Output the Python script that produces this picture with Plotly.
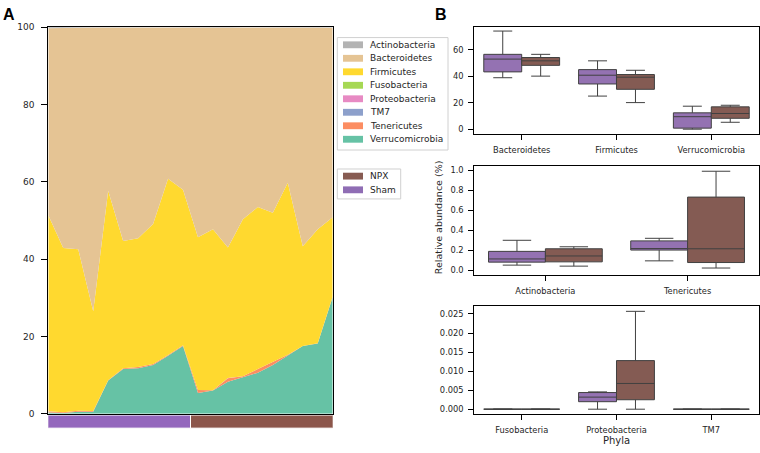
import plotly.graph_objects as go

W, H = 760, 453

# ---------------- Panel A data (relative abundance, % per sample) ----------------
samples = list(range(20))
groups = ["Sham"] * 10 + ["NPX"] * 10

verrucomicrobia = [0.3, 0.2, 0.5, 0.5, 8.6, 11.6, 11.8, 12.6, 15.0, 17.5,
                   5.4, 6.0, 8.3, 9.4, 10.6, 12.6, 15.1, 17.5, 18.2, 30.2]
tenericutes = [0.32, 0.20, 0.25, 0.22, 0.09, 0.20, 0.29, 0.30, 0.21, 0.22,
               0.75, 0.10, 0.90, 0.30, 0.98, 0.72, 0.15, 0.05, 0.02, 0.12]
tm7 = [0.0] * 20
proteobacteria = [0.004, 0.003, 0.002, 0.0, 0.0045, 0.003, 0.002, 0.004, 0.003, 0.0035,
                  0.013, 0.007, 0.026, 0.002, 0.0, 0.005, 0.008, 0.003, 0.012, 0.006]
fusobacteria = [0.0] * 20
firmicutes = [50.7, 42.5, 41.8, 25.8, 49.0, 32.9, 33.3, 36.2, 45.6, 40.2,
              39.5, 41.6, 33.8, 40.6, 41.9, 38.7, 44.5, 25.8, 29.5, 20.5]
bacteroidetes = [48.4, 56.9, 57.4, 73.4, 42.2, 55.2, 54.5, 50.7, 39.1, 42.0,
                 54.2, 52.1, 56.9, 49.6, 46.5, 47.8, 40.1, 56.6, 52.2, 49.0]
actinobacteria = [0.30, 0.19, 0.10, 0.08, 0.05, 0.12, 0.11, 0.19, 0.07, 0.10,
                  0.23, 0.21, 0.14, 0.08, 0.04, 0.22, 0.10, 0.15, 0.09, 0.18]

stack_order = ["Verrucomicrobia", "Tenericutes", "TM7", "Proteobacteria",
               "Fusobacteria", "Firmicutes", "Bacteroidetes", "Actinobacteria"]
series = {
    "Verrucomicrobia": verrucomicrobia, "Tenericutes": tenericutes, "TM7": tm7,
    "Proteobacteria": proteobacteria, "Fusobacteria": fusobacteria,
    "Firmicutes": firmicutes, "Bacteroidetes": bacteroidetes,
    "Actinobacteria": actinobacteria,
}
phylum_colors = {
    "Actinobacteria": "#b3b3b3", "Bacteroidetes": "#e5c494", "Firmicutes": "#ffd92f",
    "Fusobacteria": "#a6d854", "Proteobacteria": "#e78ac3", "TM7": "#8da0cb",
    "Tenericutes": "#fc8d62", "Verrucomicrobia": "#66c2a5",
}
group_colors = {"Sham": "#9467bd", "NPX": "#8c564b"}
box_fill = {"Sham": "#9472b2", "NPX": "#845b53"}
legend_patch = {"NPX": "#875b52", "Sham": "#8f6db4"}

# ---------------- Panel B data (box statistics) ----------------
cats_top = ["Bacteroidetes", "Firmicutes", "Verrucomicrobia"]
top_stats = {
    "Sham": dict(q1=[43.3, 34.2, 1.0], median=[52.9, 40.8, 9.6], q3=[56.5, 45.0, 12.5],
                 lowerfence=[38.9, 25.1, 0.2], upperfence=[74.0, 51.6, 17.5]),
    "NPX": dict(q1=[48.2, 30.2, 8.4], median=[51.6, 39.3, 12.0], q3=[54.1, 41.3, 17.0],
                lowerfence=[40.1, 20.2, 5.4], upperfence=[56.5, 44.5, 18.2]),
}
cats_mid = ["Actinobacteria", "Tenericutes"]
mid_stats = {
    "Sham": dict(q1=[0.079, 0.200], median=[0.111, 0.215], q3=[0.187, 0.292],
                 lowerfence=[0.049, 0.092], upperfence=[0.298, 0.318]),
    "NPX": dict(q1=[0.082, 0.075], median=[0.141, 0.213], q3=[0.213, 0.731],
                lowerfence=[0.039, 0.020], upperfence=[0.233, 0.990]),
}
cats_bot = ["Fusobacteria", "Proteobacteria", "TM7"]
bot_stats = {
    "Sham": dict(q1=[0, 0.00197, 0], median=[0, 0.00317, 0], q3=[0, 0.00437, 0],
                 lowerfence=[0, 0, 0], upperfence=[0, 0.00454, 0]),
    "NPX": dict(q1=[0, 0.00248, 0], median=[0, 0.00676, 0], q3=[0, 0.01276, 0],
                lowerfence=[0, 0, 0], upperfence=[0, 0.0257, 0]),
}

FONT = "DejaVu Sans"
TXT = "#262626"


def px_x(v):
    return v / W


def px_y(v):
    return 1 - v / H


fig = go.Figure()

# Stacked area (panel A)
for name in stack_order:
    c = phylum_colors[name]
    fig.add_trace(go.Scatter(
        x=samples, y=series[name], name=name, stackgroup="one", mode="lines",
        line=dict(width=0, color=c), fillcolor=c, showlegend=False,
        xaxis="x", yaxis="y", hoverinfo="x+y+name"))

# Group strip under panel A
strip_names, strip_x, strip_w, strip_c = [], [], [], []
for g in ["Sham", "NPX"]:
    idx = [i for i, gg in zip(samples, groups) if gg == g]
    strip_names.append(g)
    strip_x.append((min(idx) + max(idx)) / 2)
    strip_w.append(len(idx))
    strip_c.append(group_colors[g])
fig.add_trace(go.Bar(
    x=strip_x, y=[1] * len(strip_x), width=strip_w, text=strip_names, textposition="none",
    marker=dict(color=strip_c, line=dict(color="white", width=1)),
    showlegend=False, xaxis="x", yaxis="y2", hoverinfo="text"))

# Box plots (panel B)
for k, (cats, stats, xa, ya) in enumerate([(cats_top, top_stats, "x3", "y3"),
                                           (cats_mid, mid_stats, "x4", "y4"),
                                           (cats_bot, bot_stats, "x5", "y5")]):
    for g in ["Sham", "NPX"]:
        s = stats[g]
        fig.add_trace(go.Box(
            x=cats, q1=s["q1"], median=s["median"], q3=s["q3"],
            lowerfence=s["lowerfence"], upperfence=s["upperfence"],
            name=g, fillcolor=box_fill[g], line=dict(color="#404040", width=1),
            whiskerwidth=0.5, boxpoints=False, showlegend=False,
            alignmentgroup=f"panel{k}", offsetgroup=g,
            xaxis=xa, yaxis=ya))

axis_base = dict(showline=True, linecolor="black", linewidth=1, mirror=True,
                 ticks="outside", ticklen=5, tickwidth=1, tickcolor="black",
                 ticklabelstandoff=3,
                 showgrid=False, zeroline=False,
                 tickfont=dict(family=FONT, size=8.3, color=TXT))

left_dom_x = [px_x(48.3), px_x(332.7)]
right_dom_x = [px_x(474.3), px_x(758.7)]

layout = dict(
    width=W, height=H, margin=dict(l=0, r=0, t=0, b=0),
    paper_bgcolor="white", plot_bgcolor="white",
    font=dict(family=FONT, color=TXT),
    showlegend=False,
    boxmode="group", boxgap=0.2, boxgroupgap=0,
    barmode="overlay",
    xaxis=dict(axis_base, domain=left_dom_x, anchor="y", range=[0, 19],
               showticklabels=False, ticks=""),
    yaxis=dict(axis_base, domain=[px_y(418), px_y(22.7)], anchor="x",
               range=[0, 100], tickvals=[0, 20, 40, 60, 80, 100], ticklen=6,
               ticklabelstandoff=5, tickfont=dict(family=FONT, size=9, color=TXT)),
    yaxis2=dict(domain=[px_y(432.7), px_y(419.3)], anchor="x", range=[0, 1],
                visible=False, fixedrange=True),
    xaxis3=dict(axis_base, domain=right_dom_x, anchor="y3", range=[-0.5, 2.5]),
    yaxis3=dict(axis_base, domain=[px_y(132.3), px_y(22.7)], anchor="x3",
                range=[-3.7, 76.9], tickvals=[0, 20, 40, 60]),
    xaxis4=dict(axis_base, domain=right_dom_x, anchor="y4", range=[-0.5, 1.5]),
    yaxis4=dict(axis_base, domain=[px_y(275.7), px_y(165)], anchor="x4",
                range=[-0.046, 1.039], tickvals=[0, 0.2, 0.4, 0.6, 0.8, 1.0],
                tickformat=".1f"),
    xaxis5=dict(axis_base, domain=right_dom_x, anchor="y5", range=[-0.5, 2.5]),
    yaxis5=dict(axis_base, domain=[px_y(418.3), px_y(308.3)], anchor="x5",
                range=[-0.00128, 0.02697],
                tickvals=[0, 0.005, 0.01, 0.015, 0.02, 0.025], tickformat=".3f"),
)
fig.update_layout(**layout)

# ---------------- Legends (drawn as shapes + text to match spacing) ----------------
shapes, annotations = [], []


def legend_block(entries, colors, top, bottom, left, right, y0, step):
    shapes.append(dict(type="rect", xref="paper", yref="paper",
                       x0=px_x(left), x1=px_x(right), y0=px_y(bottom), y1=px_y(top),
                       line=dict(color="#d0d0d0", width=1), fillcolor="white",
                       layer="above"))
    for i, name in enumerate(entries):
        yc = y0 + i * step
        shapes.append(dict(type="rect", xref="paper", yref="paper",
                           x0=px_x(343), x1=px_x(363), y0=px_y(yc + 3.5), y1=px_y(yc - 3.5),
                           line=dict(width=0), fillcolor=colors[name], layer="above"))
        annotations.append(dict(text=name, xref="paper", yref="paper",
                                x=px_x(368), y=px_y(yc), xanchor="left", yanchor="middle",
                                showarrow=False, font=dict(family=FONT, size=9, color=TXT)))


legend_block(list(reversed(stack_order)), phylum_colors, 33.3, 148.3, 337.3, 448, 40.7, 13.8)
legend_block(["NPX", "Sham"], legend_patch, 167.7, 198.3, 337.3, 400.7, 175.0, 14.0)

annotations.append(dict(text="<b>A</b>", xref="paper", yref="paper", x=px_x(0.5), y=px_y(9.5),
                        xanchor="left", yanchor="middle", showarrow=False,
                        font=dict(family="Liberation Sans", size=16, color="black")))
annotations.append(dict(text="<b>B</b>", xref="paper", yref="paper", x=px_x(432.5), y=px_y(9.5),
                        xanchor="left", yanchor="middle", showarrow=False,
                        font=dict(family="Liberation Sans", size=16, color="black")))
annotations.append(dict(text="Relative abundance (%)", xref="paper", yref="paper",
                        x=px_x(438), y=px_y(217), textangle=-90, xanchor="center",
                        yanchor="middle", showarrow=False,
                        font=dict(family=FONT, size=9.5, color=TXT)))
annotations.append(dict(text="Phyla", xref="paper", yref="paper",
                        x=px_x(616.5), y=px_y(453), xanchor="center", yanchor="bottom",
                        showarrow=False, font=dict(family=FONT, size=10, color=TXT)))

fig.update_layout(shapes=shapes, annotations=annotations)

fig.write_html("out.html", config={"displayModeBar": False},
               post_script="document.body.style.margin='0';document.body.style.overflow='hidden';")
